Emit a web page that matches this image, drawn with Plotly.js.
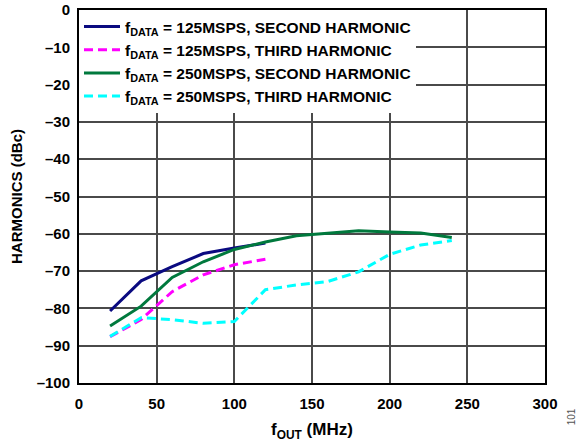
<!DOCTYPE html>
<html><head><meta charset="utf-8">
<script src="https://cdn.plot.ly/plotly-3.0.1.min.js"></script>
<style>html,body{margin:0;padding:0;background:#fff;}#plot{width:587px;height:442px;}</style>
</head><body><div id="plot"></div>
<script>
const fout125 = [20, 40, 60, 80, 100, 120];
const sec125 = [-80.7, -72.6, -68.8, -65.3, -63.8, -62.5];
const third125 = [-87.6, -83.0, -75.5, -71.0, -68.3, -66.8];
const fout250 = [20, 40, 60, 80, 100, 120, 140, 160, 180, 200, 220, 240];
const sec250 = [-84.7, -79.4, -71.7, -67.5, -64.2, -62.2, -60.5, -59.8, -59.2, -59.5, -59.8, -61.0];
const third250 = [-87.5, -82.5, -83.0, -84.0, -83.5, -75.0, -73.7, -72.8, -70.2, -65.5, -63.0, -61.8];
const names = [
  'f<sub>DATA</sub> = 125MSPS, SECOND HARMONIC',
  'f<sub>DATA</sub> = 125MSPS, THIRD HARMONIC',
  'f<sub>DATA</sub> = 250MSPS, SECOND HARMONIC',
  'f<sub>DATA</sub> = 250MSPS, THIRD HARMONIC'
];
const xTicks = [0, 50, 100, 150, 200, 250, 300];
const yTicks = [0, -10, -20, -30, -40, -50, -60, -70, -80, -90, -100];
const yTickText = yTicks.map(v => v === 0 ? '0' : '\u2013' + Math.abs(v));

const font = 'Liberation Sans, Arial, sans-serif';
const traces = [
  {x: fout125, y: sec125, name: names[0], mode: 'lines', line: {color: '#0a0a80', width: 3}},
  {x: fout125, y: third125, name: names[1], mode: 'lines', line: {color: '#ff00ff', width: 3, dash: '9px,5px'}},
  {x: fout250, y: sec250, name: names[2], mode: 'lines', line: {color: '#00793d', width: 3}},
  {x: fout250, y: third250, name: names[3], mode: 'lines', line: {color: '#00ffff', width: 3, dash: '9px,5px'}}
];
const layout = {
  width: 587, height: 442,
  margin: {l: 79, r: 42, t: 10, b: 59},
  paper_bgcolor: '#fff', plot_bgcolor: '#fff',
  font: {family: font, color: '#000', size: 15},
  showlegend: true,
  legend: {x: 0, y: 1, xanchor: 'left', yanchor: 'top', bgcolor: '#fff', borderwidth: 0,
           font: {family: font, size: 15.5, color: '#000', weight: 'bold'}, tracegroupgap: 0,
           itemwidth: 36},
  xaxis: {range: [0, 300], tickvals: xTicks, ticktext: xTicks.map(String),
          showgrid: true, gridcolor: '#4a4a4a', gridwidth: 2, zeroline: false,
          showline: true, linecolor: '#000', linewidth: 2, mirror: true, ticks: '',
          ticklabelstandoff: 6,
          tickfont: {family: font, size: 15, weight: 'bold'},
          title: {text: 'f<sub>OUT</sub> (MHz)', font: {family: font, size: 17, weight: 'bold'}, standoff: 14}},
  yaxis: {range: [-100, 0], tickvals: yTicks, ticktext: yTickText,
          showgrid: true, gridcolor: '#4a4a4a', gridwidth: 2, zeroline: false,
          showline: true, linecolor: '#000', linewidth: 2, mirror: true, ticks: '',
          ticklabelstandoff: 4,
          tickfont: {family: font, size: 15, weight: 'bold'},
          title: {text: 'HARMONICS (dBc)', font: {family: font, size: 15, weight: 'bold'}, standoff: 10}},
  annotations: [{text: '101', xref: 'paper', yref: 'paper', x: 1.072, y: -0.12, showarrow: false,
                 textangle: -90, font: {family: font, size: 10, color: '#555'}}]
};
Plotly.newPlot('plot', traces, layout, {staticPlot: true, displayModeBar: false});
</script></body></html>
